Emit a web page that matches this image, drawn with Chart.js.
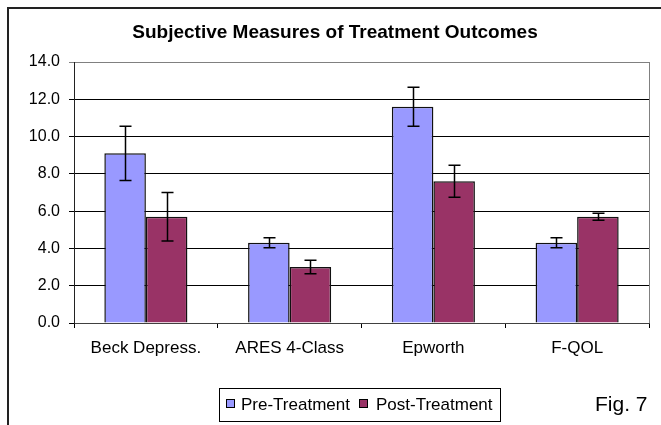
<!DOCTYPE html>
<html>
<head>
<meta charset="utf-8">
<script src="https://cdn.jsdelivr.net/npm/chart.js@4.4.1/dist/chart.umd.min.js"></script>
<style>
    body { margin: 0; background: #fff; }
    #quadro { position: relative; width: 661px; height: 425px; overflow: hidden; font-family: "Liberation Sans", Arial, sans-serif; color: #000; }
    #grafico { position: absolute; left: 0; top: 0; }
    #moldura { position: absolute; left: 7px; top: 7px; width: 700px; height: 500px; border-top: 2px solid #222; border-left: 2px solid #222; }
    #titulo { position: absolute; left: 0; width: 670px; top: 21px; text-align: center; font-weight: bold; font-size: 19px; }
    #legenda { position: absolute; left: 219px; top: 388px; width: 282px; height: 34px; border: 1px solid #000; box-sizing: border-box; font-size: 17px; }
    #legenda span { position: absolute; top: 6px; white-space: nowrap; }
    #legenda i { position: absolute; top: 10px; width: 9px; height: 9px; border: 1px solid #000; box-sizing: border-box; }
    #fig { position: absolute; left: 595px; top: 392px; font-size: 21px; }
</style>
</head>
<body>
<div id="quadro">
    <div id="moldura"></div>
    <canvas id="grafico" width="661" height="425"></canvas>
    <div id="titulo">Subjective Measures of Treatment Outcomes</div>
    <div id="legenda">
        <i style="left: 6px; background: #9999FF"></i><span style="left: 21px">Pre-Treatment</span>
        <i style="left: 139px; background: #993366"></i><span style="left: 156px">Post-Treatment</span>
    </div>
    <div id="fig">Fig. 7</div>
</div>
<script>
const categorias = ["Beck Depress.", "ARES 4-Class", "Epworth", "F-QOL"]
const preTratamento = [9.1, 4.3, 11.6, 4.3]
const posTratamento = [5.7, 3.0, 7.6, 5.7]
const erroPre = [1.45, 0.27, 1.05, 0.27]
const erroPos = [1.3, 0.36, 0.86, 0.19]
const eixoY = { min: 0, max: 14, passo: 2 }

const erros = [erroPre, erroPos]

// barras de erro + borda direita da area do grafico
const barrasErro = {
    id: "barrasErro",
    afterDatasetsDraw(chart) {
        const ctx = chart.ctx
        const y = chart.scales.y
        ctx.save()
        ctx.strokeStyle = "#000"
        ctx.lineWidth = 1.5
        chart.data.datasets.forEach((ds, d) => {
            chart.getDatasetMeta(d).data.forEach((barra, i) => {
                const x = Math.round(barra.x) + 0.5
                const topo = y.getPixelForValue(ds.data[i] + erros[d][i])
                const base = y.getPixelForValue(ds.data[i] - erros[d][i])
                ctx.beginPath()
                ctx.moveTo(x, topo)
                ctx.lineTo(x, base)
                ctx.moveTo(x - 6, topo)
                ctx.lineTo(x + 6, topo)
                ctx.moveTo(x - 6, base)
                ctx.lineTo(x + 6, base)
                ctx.stroke()
            })
        })
        const area = chart.chartArea
        ctx.strokeStyle = "#808080"
        ctx.lineWidth = 1
        ctx.beginPath()
        ctx.moveTo(Math.round(area.right) + 0.5, area.top)
        ctx.lineTo(Math.round(area.right) + 0.5, area.bottom)
        ctx.stroke()
        ctx.restore()
    }
}

let myChartTratamento = new Chart(
    document.getElementById("grafico"),
    {
        type: "bar",
        data: {
            labels: categorias,
            datasets: [
                {
                    label: "Pre-Treatment",
                    data: preTratamento,
                    backgroundColor: "#9999FF",
                    borderColor: "#111",
                    borderWidth: 1.5,
                    categoryPercentage: 0.578,
                    barPercentage: 1
                },
                {
                    label: "Post-Treatment",
                    data: posTratamento,
                    backgroundColor: "#993366",
                    borderColor: "#111",
                    borderWidth: 1.5,
                    categoryPercentage: 0.578,
                    barPercentage: 1
                }
            ]
        },
        options: {
            responsive: false,
            animation: false,
            devicePixelRatio: 1,
            layout: { padding: { left: 0, top: 62, right: 12, bottom: 0 } },
            plugins: {
                legend: { display: false },
                title: { display: false },
                tooltip: { enabled: false }
            },
            scales: {
                x: {
                    offset: true,
                    afterFit: scale => { scale.height = 102 },
                    grid: { drawOnChartArea: false, drawTicks: true, tickLength: 5, color: "#000" },
                    border: { color: "#404040", width: 1 },
                    ticks: {
                        color: "#000",
                        padding: 10,
                        maxRotation: 0,
                        autoSkip: false,
                        font: { family: "'Liberation Sans', Arial, sans-serif", size: 17 }
                    }
                },
                y: {
                    min: eixoY.min,
                    max: eixoY.max,
                    afterFit: scale => { scale.width = 74 },
                    grid: {
                        tickLength: 5,
                        color: c => c.tick && c.tick.value === eixoY.max ? "#808080" : "#000"
                    },
                    border: { color: "#222", width: 1 },
                    ticks: {
                        stepSize: eixoY.passo,
                        color: "#000",
                        padding: 9,
                        font: { family: "'Liberation Sans', Arial, sans-serif", size: 16 },
                        callback: v => v.toFixed(1)
                    }
                }
            }
        },
        plugins: [barrasErro]
    }
)
</script>
</body>
</html>
